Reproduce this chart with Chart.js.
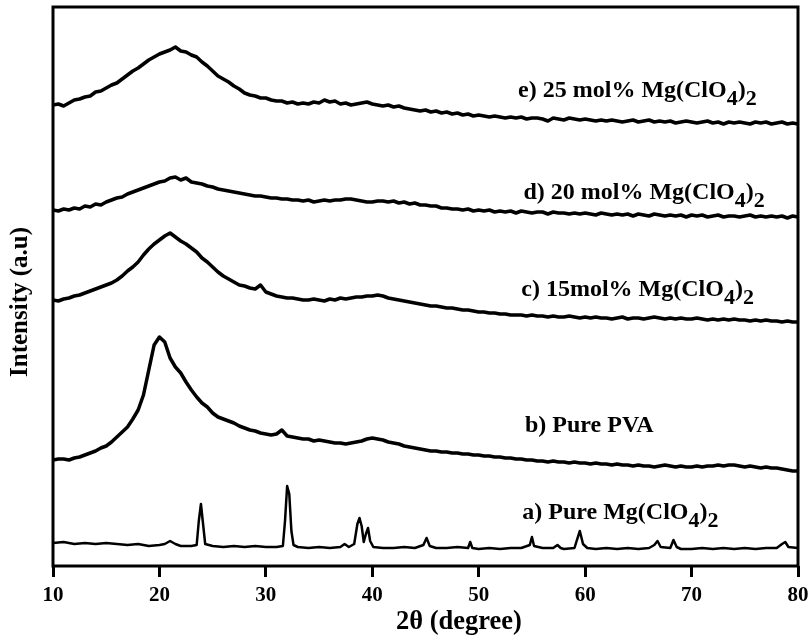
<!DOCTYPE html>
<html>
<head>
<meta charset="utf-8">
<script src="https://cdn.jsdelivr.net/npm/chart.js@4/dist/chart.umd.min.js"></script>
<style>
html,body{margin:0;padding:0;background:#fff;}
#wrap{width:812px;height:640px;}
</style>
</head>
<body>
<div id="wrap"><canvas id="c" width="812" height="640"></canvas></div>
<script>
// 2θ grid (degree) shared by curves b–e
const twoTheta = [
10,10.5,11,11.5,12,12.5,13,13.5,14,14.5,
15,15.5,16,16.5,17,17.5,18,18.5,19,19.5,
20,20.5,21,21.5,22,22.5,23,23.5,24,24.5,
25,25.5,26,26.5,27,27.5,28,28.5,29,29.5,
30,30.5,31,31.5,32,32.5,33,33.5,34,34.5,
35,35.5,36,36.5,37,37.5,38,38.5,39,39.5,
40,40.5,41,41.5,42,42.5,43,43.5,44,44.5,
45,45.5,46,46.5,47,47.5,48,48.5,49,49.5,
50,50.5,51,51.5,52,52.5,53,53.5,54,54.5,
55,55.5,56,56.5,57,57.5,58,58.5,59,59.5,
60,60.5,61,61.5,62,62.5,63,63.5,64,64.5,
65,65.5,66,66.5,67,67.5,68,68.5,69,69.5,
70,70.5,71,71.5,72,72.5,73,73.5,74,74.5,
75,75.5,76,76.5,77,77.5,78,78.5,79,79.5,
80];

// e) 25 mol% Mg(ClO4)2 (offset intensity, a.u.)
const e25 = [
461,462,460,463,466,467,469,470,474,475,
478,481,483,487,491,495,498,502,506,509,
512,514,516,519,515,514,511,509,504,500,
495,490,487,484,480,477,473,471,470,468,
468,466,465,465,463,464,462,463,462,464,
463,466,464,465,462,463,461,462,463,464,
462,461,460,461,459,460,458,457,456,455,
456,454,455,453,454,452,453,451,452,450,
451,450,449,450,449,448,449,448,449,447,
448,448,447,445,448,447,446,448,447,446,
447,446,445,446,445,446,445,444,445,446,
444,445,446,444,445,444,445,443,444,445,
444,443,444,445,443,444,442,444,443,444,
443,442,444,443,444,442,443,444,442,443,
442];

// d) 20 mol% Mg(ClO4)2
const d20 = [
356,355,357,356,358,357,360,359,362,361,
364,366,368,369,372,374,376,378,380,382,
384,385,388,389,386,388,384,383,382,380,
379,377,376,375,374,373,372,371,370,370,
369,368,368,367,367,366,366,365,366,364,
365,366,365,366,366,367,367,366,365,364,
364,365,365,364,365,363,364,362,363,361,
361,360,360,358,358,357,357,356,357,355,
356,355,356,354,355,354,355,353,355,354,
353,354,354,352,354,353,353,352,353,352,
353,352,351,353,352,351,352,351,352,350,
352,351,350,352,351,350,351,350,351,349,
351,350,351,349,350,351,349,350,350,349,
350,351,349,350,349,350,349,350,348,350,
349];

// c) 15 mol% Mg(ClO4)2
const c15 = [
266,265,267,268,270,271,273,275,277,279,
281,283,286,290,295,299,304,311,317,322,
326,330,333,329,325,322,318,314,308,304,
299,294,290,287,284,281,280,278,277,281,
274,272,270,269,268,268,267,266,266,267,
266,265,267,266,268,267,268,269,269,270,
270,271,270,268,267,266,265,264,263,262,
261,260,260,259,258,258,257,256,256,255,
254,254,253,253,252,252,251,251,251,250,
251,250,250,249,250,249,249,250,249,248,
249,248,249,248,248,247,248,249,247,248,
248,247,248,249,248,247,248,247,248,247,
247,248,247,246,247,246,247,246,247,246,
246,245,246,245,246,245,245,244,245,244,
244];

// b) Pure PVA
const pva = [
106,107,107,106,108,109,111,113,115,118,
120,124,129,134,139,147,156,171,196,221,
229,224,208,199,193,184,176,169,163,159,
153,149,147,145,143,140,138,136,135,133,
132,131,132,136,130,129,128,127,127,125,
126,125,124,123,123,122,123,124,125,127,
128,127,126,124,123,122,120,119,118,117,
116,115,115,114,114,113,113,112,112,111,
111,110,110,109,109,108,108,107,107,106,
106,105,105,104,105,104,104,103,104,103,
103,102,103,102,102,101,102,101,101,100,
101,100,100,99,100,101,100,99,100,99,
99,100,99,100,100,101,100,101,101,100,
99,100,99,98,99,98,98,97,96,95,
95];

// a) Pure Mg(ClO4)2 — own 2θ points (denser around the sharp peaks)
const saltTheta = [
10,11,12,13,14,15,16,17,18,19,20,20.5,21,21.5,22,23,23.5,23.7,23.9,24.1,24.3,
25,26,27,28,29,30,31,31.6,31.8,32.0,32.2,32.4,32.6,33,34,35,36,37,37.4,37.8,
38.3,38.6,38.8,39.0,39.2,39.4,39.6,39.8,40.1,41,42,43,44,44.8,45.1,45.4,46,47,48,
49,49.2,49.4,50,51,52,53,54,54.8,55,55.2,56,57,57.4,57.7,58,59,59.2,59.5,59.8,60.2,
61,62,63,64,65,66,66.5,66.8,67.1,68,68.3,68.6,69,70,71,72,73,74,75,76,77,78,78.5,78.8,79.1,80];
const salt = [
23,24,22,23,22,23,22,21,22,20,21,22,25,22,20,20,21,45,62,42,22,
20,19,20,19,20,19,19,20,45,80,72,35,21,19,18,19,18,19,22,19,
22,42,48,40,24,32,38,25,19,18,18,19,18,21,28,20,18,18,19,
18,24,18,17,18,17,18,18,21,29,20,18,18,21,18,17,18,25,35,22,18,
17,18,17,18,17,18,21,25,19,18,26,19,17,17,18,17,18,17,18,17,18,18,22,24,19,18];

const xTicks = [10,20,30,40,50,60,70,80];

const curveLabels = [
  {x:53.7, y:475, parts:[["e) 25 mol% Mg(ClO",0],["4",1],[")",0],["2",1]]},
  {x:54.2, y:373, parts:[["d) 20 mol% Mg(ClO",0],["4",1],[")",0],["2",1]]},
  {x:54.0, y:276, parts:[["c) 15mol% Mg(ClO",0],["4",1],[")",0],["2",1]]},
  {x:54.35, y:140, parts:[["b) Pure PVA",0]]},
  {x:54.1, y:53, parts:[["a) Pure Mg(ClO",0],["4",1],[")",0],["2",1]]}
];

const FONT = '"Liberation Serif","Times New Roman",serif';
const pts = (xs, ys) => xs.map((x, i) => ({x: x, y: ys[i]}));

const ds = (data, w) => ({data: data, borderColor:'#000', borderWidth:w, pointRadius:0,
  tension:0, fill:false, borderJoinStyle:'round', borderCapStyle:'round'});

const decor = {
  id:'decor',
  afterDraw(chart){
    const ctx = chart.ctx, a = chart.chartArea, xs = chart.scales.x, ys = chart.scales.y;
    ctx.save();
    ctx.strokeStyle = '#000'; ctx.lineWidth = 3;
    ctx.strokeRect(a.left, a.top, a.right - a.left, a.bottom - a.top);
    ctx.fillStyle = '#000';
    ctx.textBaseline = 'middle';
    curveLabels.forEach(l => {
      let px = xs.getPixelForValue(l.x), py = ys.getPixelForValue(l.y);
      l.parts.forEach(p => {
        ctx.font = 'bold ' + (p[1] ? 22 : 24) + 'px ' + FONT;
        ctx.textAlign = 'left';
        ctx.fillText(p[0], px, py + (p[1] ? 8 : 0));
        px += ctx.measureText(p[0]).width;
      });
    });
    ctx.font = 'bold 26.5px ' + FONT;
    ctx.textAlign = 'left';
    ctx.fillText('2θ (degree)', 396, 622);
    ctx.translate(21, 302);
    ctx.rotate(-Math.PI/2);
    ctx.textAlign = 'center';
    ctx.font = 'bold 25px ' + FONT;
    ctx.fillText('Intensity (a.u)', 0, 0);
    ctx.restore();
  }
};

new Chart(document.getElementById('c'), {
  type:'line',
  data:{datasets:[
    ds(pts(twoTheta, e25), 3.5),
    ds(pts(twoTheta, d20), 3.5),
    ds(pts(twoTheta, c15), 3.5),
    ds(pts(twoTheta, pva), 3.5),
    ds(pts(saltTheta, salt), 2.5)
  ]},
  options:{
    responsive:false, animation:false,
    layout:{padding:{left:53, right:14, top:7, bottom:0}},
    plugins:{legend:{display:false}, tooltip:{enabled:false}},
    scales:{
      x:{type:'linear', min:10, max:80,
        afterBuildTicks(s){ s.ticks = xTicks.map(v => ({value:v})); },
        afterFit(s){ s.height = 74; s.paddingLeft = 0; s.paddingRight = 0; },
        border:{display:false},
        grid:{drawOnChartArea:false, drawTicks:true, tickLength:11, tickWidth:3, tickColor:'#000'},
        ticks:{color:'#000', font:{family:FONT, size:21, weight:'bold'}, padding:6, maxRotation:0}
      },
      y:{type:'linear', min:0, max:559, display:false}
    }
  },
  plugins:[decor]
});
</script>
</body>
</html>
